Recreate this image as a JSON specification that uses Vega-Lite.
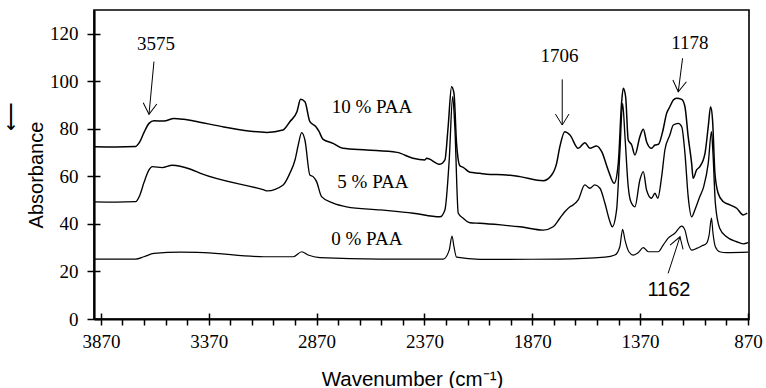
{
  "$schema": "https://vega.github.io/schema/vega-lite/v6.json",
  "width": 655,
  "height": 309,
  "autosize": {"type": "none"},
  "padding": {"left": 94, "top": 10, "right": 17, "bottom": 69},
  "background": "white",
  "config": {
    "view": {"stroke": "black", "strokeWidth": 1.6},
    "axis": {"domainColor": "black", "domainWidth": 2.2, "tickColor": "black", "tickWidth": 1.5, "grid": false, "labelColor": "black", "labelFont": "Liberation Serif", "labelFontSize": 19, "titleColor": "black", "titleFont": "Liberation Sans", "titleFontWeight": "normal", "titleFontSize": 20}
  },
  "datasets": {
    "spectra": [
      {"s":"10 % PAA","w":3900,"a":72.5},{"s":"10 % PAA","w":3800,"a":72.4},{"s":"10 % PAA","w":3709,"a":72.6},{"s":"10 % PAA","w":3690,"a":74.5},{"s":"10 % PAA","w":3670,"a":78.5},{"s":"10 % PAA","w":3647,"a":82.3},{"s":"10 % PAA","w":3624,"a":83.4},{"s":"10 % PAA","w":3578,"a":83.3},{"s":"10 % PAA","w":3531,"a":84.4},{"s":"10 % PAA","w":3485,"a":84.0},{"s":"10 % PAA","w":3439,"a":83.3},{"s":"10 % PAA","w":3300,"a":80.8},{"s":"10 % PAA","w":3100,"a":78.5},{"s":"10 % PAA","w":3026,"a":79.5},{"s":"10 % PAA","w":2994,"a":83.0},{"s":"10 % PAA","w":2961,"a":87.2},{"s":"10 % PAA","w":2944,"a":92.4},{"s":"10 % PAA","w":2924,"a":91.4},{"s":"10 % PAA","w":2901,"a":83.0},{"s":"10 % PAA","w":2873,"a":80.9},{"s":"10 % PAA","w":2858,"a":78.8},{"s":"10 % PAA","w":2841,"a":75.7},{"s":"10 % PAA","w":2794,"a":73.9},{"s":"10 % PAA","w":2748,"a":71.8},{"s":"10 % PAA","w":2637,"a":71.1},{"s":"10 % PAA","w":2497,"a":70.1},{"s":"10 % PAA","w":2423,"a":67.6},{"s":"10 % PAA","w":2368,"a":66.9},{"s":"10 % PAA","w":2360,"a":67.6},{"s":"10 % PAA","w":2298,"a":65.1},{"s":"10 % PAA","w":2275,"a":66.9},{"s":"10 % PAA","w":2260,"a":80.9},{"s":"10 % PAA","w":2244,"a":97.7},{"s":"10 % PAA","w":2233,"a":95.0},{"s":"10 % PAA","w":2221,"a":73.9},{"s":"10 % PAA","w":2205,"a":64.4},{"s":"10 % PAA","w":2190,"a":63.8},{"s":"10 % PAA","w":2159,"a":61.7},{"s":"10 % PAA","w":2113,"a":61.3},{"s":"10 % PAA","w":2082,"a":60.9},{"s":"10 % PAA","w":1989,"a":60.6},{"s":"10 % PAA","w":1927,"a":59.9},{"s":"10 % PAA","w":1819,"a":58.2},{"s":"10 % PAA","w":1780,"a":60.6},{"s":"10 % PAA","w":1757,"a":65.5},{"s":"10 % PAA","w":1742,"a":72.5},{"s":"10 % PAA","w":1719,"a":78.8},{"s":"10 % PAA","w":1695,"a":77.4},{"s":"10 % PAA","w":1657,"a":71.8},{"s":"10 % PAA","w":1626,"a":74.2},{"s":"10 % PAA","w":1603,"a":71.8},{"s":"10 % PAA","w":1572,"a":72.8},{"s":"10 % PAA","w":1548,"a":70.4},{"s":"10 % PAA","w":1518,"a":62.7},{"s":"10 % PAA","w":1490,"a":57.1},{"s":"10 % PAA","w":1471,"a":65.5},{"s":"10 % PAA","w":1456,"a":90.7},{"s":"10 % PAA","w":1448,"a":97.1},{"s":"10 % PAA","w":1437,"a":93.5},{"s":"10 % PAA","w":1425,"a":75.3},{"s":"10 % PAA","w":1409,"a":73.2},{"s":"10 % PAA","w":1394,"a":69.0},{"s":"10 % PAA","w":1371,"a":76.7},{"s":"10 % PAA","w":1355,"a":79.8},{"s":"10 % PAA","w":1340,"a":74.6},{"s":"10 % PAA","w":1317,"a":71.8},{"s":"10 % PAA","w":1301,"a":73.2},{"s":"10 % PAA","w":1285,"a":73.5},{"s":"10 % PAA","w":1265,"a":79.0},{"s":"10 % PAA","w":1247,"a":86.5},{"s":"10 % PAA","w":1232,"a":89.3},{"s":"10 % PAA","w":1216,"a":92.1},{"s":"10 % PAA","w":1201,"a":92.9},{"s":"10 % PAA","w":1177,"a":92.4},{"s":"10 % PAA","w":1162,"a":89.3},{"s":"10 % PAA","w":1147,"a":76.7},{"s":"10 % PAA","w":1131,"a":65.5},{"s":"10 % PAA","w":1124,"a":59.2},{"s":"10 % PAA","w":1108,"a":62.7},{"s":"10 % PAA","w":1093,"a":64.1},{"s":"10 % PAA","w":1069,"a":69.7},{"s":"10 % PAA","w":1054,"a":80.9},{"s":"10 % PAA","w":1043,"a":89.3},{"s":"10 % PAA","w":1034,"a":83.7},{"s":"10 % PAA","w":1023,"a":61.3},{"s":"10 % PAA","w":1008,"a":52.9},{"s":"10 % PAA","w":985,"a":49.4},{"s":"10 % PAA","w":953,"a":48.0},{"s":"10 % PAA","w":922,"a":46.6},{"s":"10 % PAA","w":892,"a":43.8},{"s":"10 % PAA","w":873,"a":44.5},
      {"s":"5 % PAA","w":3900,"a":49.3},{"s":"5 % PAA","w":3800,"a":49.2},{"s":"5 % PAA","w":3709,"a":49.4},{"s":"5 % PAA","w":3690,"a":52.0},{"s":"5 % PAA","w":3670,"a":57.5},{"s":"5 % PAA","w":3647,"a":62.7},{"s":"5 % PAA","w":3632,"a":64.1},{"s":"5 % PAA","w":3586,"a":63.7},{"s":"5 % PAA","w":3539,"a":64.7},{"s":"5 % PAA","w":3454,"a":63.0},{"s":"5 % PAA","w":3408,"a":61.3},{"s":"5 % PAA","w":3114,"a":54.3},{"s":"5 % PAA","w":3099,"a":53.9},{"s":"5 % PAA","w":3025,"a":56.4},{"s":"5 % PAA","w":2994,"a":61.3},{"s":"5 % PAA","w":2970,"a":66.9},{"s":"5 % PAA","w":2955,"a":73.2},{"s":"5 % PAA","w":2939,"a":78.4},{"s":"5 % PAA","w":2924,"a":75.3},{"s":"5 % PAA","w":2901,"a":60.6},{"s":"5 % PAA","w":2886,"a":59.9},{"s":"5 % PAA","w":2870,"a":57.8},{"s":"5 % PAA","w":2847,"a":51.5},{"s":"5 % PAA","w":2793,"a":48.7},{"s":"5 % PAA","w":2731,"a":47.2},{"s":"5 % PAA","w":2576,"a":45.9},{"s":"5 % PAA","w":2422,"a":44.5},{"s":"5 % PAA","w":2298,"a":43.0},{"s":"5 % PAA","w":2275,"a":45.9},{"s":"5 % PAA","w":2255,"a":66.9},{"s":"5 % PAA","w":2239,"a":93.5},{"s":"5 % PAA","w":2229,"a":80.9},{"s":"5 % PAA","w":2213,"a":44.5},{"s":"5 % PAA","w":2190,"a":42.4},{"s":"5 % PAA","w":2159,"a":40.5},{"s":"5 % PAA","w":2113,"a":40.3},{"s":"5 % PAA","w":2005,"a":39.5},{"s":"5 % PAA","w":1927,"a":38.8},{"s":"5 % PAA","w":1819,"a":37.4},{"s":"5 % PAA","w":1773,"a":38.8},{"s":"5 % PAA","w":1742,"a":42.4},{"s":"5 % PAA","w":1719,"a":45.1},{"s":"5 % PAA","w":1695,"a":47.2},{"s":"5 % PAA","w":1680,"a":48.0},{"s":"5 % PAA","w":1657,"a":50.1},{"s":"5 % PAA","w":1626,"a":56.4},{"s":"5 % PAA","w":1603,"a":55.0},{"s":"5 % PAA","w":1580,"a":56.4},{"s":"5 % PAA","w":1556,"a":55.0},{"s":"5 % PAA","w":1533,"a":48.7},{"s":"5 % PAA","w":1510,"a":41.0},{"s":"5 % PAA","w":1499,"a":38.8},{"s":"5 % PAA","w":1479,"a":45.9},{"s":"5 % PAA","w":1464,"a":69.7},{"s":"5 % PAA","w":1451,"a":90.7},{"s":"5 % PAA","w":1440,"a":76.7},{"s":"5 % PAA","w":1425,"a":55.7},{"s":"5 % PAA","w":1413,"a":49.4},{"s":"5 % PAA","w":1394,"a":47.2},{"s":"5 % PAA","w":1371,"a":58.5},{"s":"5 % PAA","w":1355,"a":62.0},{"s":"5 % PAA","w":1340,"a":54.3},{"s":"5 % PAA","w":1317,"a":50.8},{"s":"5 % PAA","w":1301,"a":52.9},{"s":"5 % PAA","w":1288,"a":50.8},{"s":"5 % PAA","w":1270,"a":59.9},{"s":"5 % PAA","w":1255,"a":71.1},{"s":"5 % PAA","w":1232,"a":77.4},{"s":"5 % PAA","w":1216,"a":81.6},{"s":"5 % PAA","w":1193,"a":82.3},{"s":"5 % PAA","w":1177,"a":80.9},{"s":"5 % PAA","w":1162,"a":69.7},{"s":"5 % PAA","w":1147,"a":51.5},{"s":"5 % PAA","w":1131,"a":43.0},{"s":"5 % PAA","w":1116,"a":45.9},{"s":"5 % PAA","w":1093,"a":51.5},{"s":"5 % PAA","w":1075,"a":55.7},{"s":"5 % PAA","w":1054,"a":65.5},{"s":"5 % PAA","w":1039,"a":78.8},{"s":"5 % PAA","w":1032,"a":69.7},{"s":"5 % PAA","w":1021,"a":48.7},{"s":"5 % PAA","w":1001,"a":38.2},{"s":"5 % PAA","w":969,"a":34.6},{"s":"5 % PAA","w":922,"a":32.5},{"s":"5 % PAA","w":892,"a":31.6},{"s":"5 % PAA","w":869,"a":32.1},
      {"s":"0 % PAA","w":3900,"a":25.2},{"s":"0 % PAA","w":3709,"a":25.2},{"s":"0 % PAA","w":3670,"a":26.2},{"s":"0 % PAA","w":3624,"a":27.6},{"s":"0 % PAA","w":3500,"a":28.1},{"s":"0 % PAA","w":3392,"a":27.9},{"s":"0 % PAA","w":3114,"a":26.2},{"s":"0 % PAA","w":2978,"a":26.2},{"s":"0 % PAA","w":2939,"a":28.3},{"s":"0 % PAA","w":2909,"a":26.9},{"s":"0 % PAA","w":2855,"a":25.8},{"s":"0 % PAA","w":2576,"a":25.2},{"s":"0 % PAA","w":2283,"a":25.2},{"s":"0 % PAA","w":2255,"a":29.0},{"s":"0 % PAA","w":2242,"a":34.9},{"s":"0 % PAA","w":2233,"a":30.4},{"s":"0 % PAA","w":2221,"a":26.0},{"s":"0 % PAA","w":2113,"a":25.1},{"s":"0 % PAA","w":1742,"a":25.2},{"s":"0 % PAA","w":1533,"a":26.0},{"s":"0 % PAA","w":1487,"a":26.9},{"s":"0 % PAA","w":1464,"a":30.4},{"s":"0 % PAA","w":1451,"a":37.7},{"s":"0 % PAA","w":1440,"a":33.2},{"s":"0 % PAA","w":1422,"a":28.3},{"s":"0 % PAA","w":1402,"a":26.9},{"s":"0 % PAA","w":1379,"a":27.9},{"s":"0 % PAA","w":1355,"a":30.0},{"s":"0 % PAA","w":1332,"a":28.3},{"s":"0 % PAA","w":1309,"a":28.3},{"s":"0 % PAA","w":1286,"a":28.3},{"s":"0 % PAA","w":1263,"a":31.1},{"s":"0 % PAA","w":1240,"a":34.0},{"s":"0 % PAA","w":1209,"a":36.1},{"s":"0 % PAA","w":1177,"a":39.1},{"s":"0 % PAA","w":1162,"a":37.4},{"s":"0 % PAA","w":1147,"a":31.8},{"s":"0 % PAA","w":1131,"a":29.0},{"s":"0 % PAA","w":1108,"a":29.7},{"s":"0 % PAA","w":1085,"a":30.7},{"s":"0 % PAA","w":1062,"a":31.8},{"s":"0 % PAA","w":1050,"a":35.3},{"s":"0 % PAA","w":1039,"a":42.4},{"s":"0 % PAA","w":1032,"a":36.1},{"s":"0 % PAA","w":1021,"a":30.4},{"s":"0 % PAA","w":1001,"a":28.3},{"s":"0 % PAA","w":969,"a":27.9},{"s":"0 % PAA","w":869,"a":28.1}
    ],
    "labels": [
      {"t":"3575","w":3615,"a":115.9},
      {"t":"10 % PAA","w":2613,"a":89.0},
      {"t":"5 % PAA","w":2609,"a":57.8},
      {"t":"0 % PAA","w":2637,"a":33.7},
      {"t":"1706","w":1744,"a":110.6},
      {"t":"1178","w":1139,"a":116.0},
      {"t":"1162","w":1236,"a":12.0}
    ],
    "arrows": [
      {"x":3624,"y":108.3,"x2":3647,"y2":86.1},
      {"x":1731,"y":100.8,"x2":1731,"y2":81.6},
      {"x":1173,"y":109.7,"x2":1193,"y2":95.6},
      {"x":1240,"y":19.2,"x2":1185,"y2":34.6}
    ]
  },
  "resolve": {"axis": {"x": "independent", "y": "independent"}},
  "layer": [
    {
      "data": {"name": "spectra"},
      "mark": {"type": "line", "interpolate": "monotone", "color": "black"},
      "encoding": {
        "x": {"field": "w", "type": "quantitative",
          "scale": {"domain": [865, 3902], "reverse": true, "nice": false, "zero": false},
          "axis": {"orient": "bottom", "values": [3870,3770,3670,3570,3470,3370,3270,3170,3070,2970,2870,2770,2670,2570,2470,2370,2270,2170,2070,1970,1870,1770,1670,1570,1470,1370,1270,1170,1070,970,870],
            "format": "d", "tickSize": 6, "labelExpr": "datum.value % 500 == 370 ? datum.label : ''", "labelOverlap": false, "labelFlush": false, "labelPadding": 7,
            "labelFont": "Liberation Serif", "labelFontSize": 19, "labelColor": "black",
            "title": "Wavenumber (cm⁻¹)", "titleFont": "Liberation Sans", "titleX": 318, "titleY": 66, "titleBaseline": "alphabetic", "titleFontSize": 20.5}},
        "y": {"field": "a", "type": "quantitative",
          "scale": {"domain": [0, 130], "nice": false, "zero": false},
          "axis": {"orient": "left", "values": [0,20,40,60,80,100,120], "tickSize": 7, "labelPadding": 9, "labelOverlap": false, "labelFlush": false,
            "labelFont": "Liberation Serif", "labelFontSize": 19, "labelColor": "black",
            "title": ["\u200b\u00a0\u00a0\u00a0\u00a0\u00a0\u00a0\u00a0\u00a0\u00a0\u00a0\u00a0\u00a0\u00a0\u00a0\u00a0\u00a0\u00a0\u00a0\u00a0\u00a0\u00a0⟵", "Absorbance"],
            "titleFont": "Liberation Sans", "titleFontSize": 20,
            "titleX": -78, "titleY": 164.5, "titleAngle": -90, "titleAlign": "center", "titleBaseline": "alphabetic", "titleLineHeight": 26}},
        "detail": {"field": "s"},
        "strokeWidth": {"field": "s", "type": "nominal", "scale": {"domain": ["0 % PAA", "5 % PAA", "10 % PAA"], "range": [1.2, 1.5, 2.2]}, "legend": null}
      }
    },
    {
      "data": {"name": "labels"},
      "transform": [{"filter": "datum.t !== '1162'"}],
      "mark": {"type": "text", "font": "Liberation Serif", "fontSize": 19, "align": "center", "baseline": "middle", "color": "black"},
      "encoding": {
        "x": {"field": "w", "type": "quantitative",
          "scale": {"domain": [865, 3902], "reverse": true, "nice": false, "zero": false},
          "axis": {"orient": "bottom", "values": [3870,3370,2870,2370,1870,1370,870], "tickSize": -6, "labels": false, "domain": false, "title": null}},
        "y": {"field": "a", "type": "quantitative",
          "scale": {"domain": [0, 130], "nice": false, "zero": false},
          "axis": {"orient": "left", "values": [0,20,40,60,80,100,120], "tickSize": -6, "labels": false, "domain": false, "title": null}},
        "text": {"field": "t"}
      }
    },
    {
      "data": {"name": "labels"},
      "transform": [{"filter": "datum.t === '1162'"}],
      "mark": {"type": "text", "font": "Liberation Sans", "fontSize": 20, "align": "center", "baseline": "middle", "color": "black"},
      "encoding": {
        "x": {"field": "w", "type": "quantitative", "scale": {"domain": [865, 3902], "reverse": true, "nice": false, "zero": false}, "axis": null},
        "y": {"field": "a", "type": "quantitative", "scale": {"domain": [0, 130], "nice": false, "zero": false}, "axis": null},
        "text": {"field": "t"}
      }
    },
    {
      "data": {"name": "arrows"},
      "mark": {"type": "rule", "color": "black", "strokeWidth": 1},
      "encoding": {
        "x": {"field": "x", "type": "quantitative", "scale": {"domain": [865, 3902], "reverse": true, "nice": false, "zero": false}, "axis": null},
        "x2": {"field": "x2"},
        "y": {"field": "y", "type": "quantitative", "scale": {"domain": [0, 130], "nice": false, "zero": false}, "axis": null},
        "y2": {"field": "y2"}
      }
    },
    {
      "data": {"name": "arrows"},
      "transform": [{"calculate": "atan2((datum.x2 - datum.x) * 0.21568, (datum.y - datum.y2) * 2.3769) * 180 / PI", "as": "ang"}],
      "mark": {"type": "point", "shape": "M -0.62 -1 L 0 0 L 0.62 -1", "filled": false, "stroke": "black", "strokeWidth": 1, "size": 484, "opacity": 1},
      "encoding": {
        "x": {"field": "x2", "type": "quantitative", "scale": {"domain": [865, 3902], "reverse": true, "nice": false, "zero": false}, "axis": null},
        "y": {"field": "y2", "type": "quantitative", "scale": {"domain": [0, 130], "nice": false, "zero": false}, "axis": null},
        "angle": {"field": "ang", "type": "quantitative", "scale": null}
      }
    }
  ]
}
